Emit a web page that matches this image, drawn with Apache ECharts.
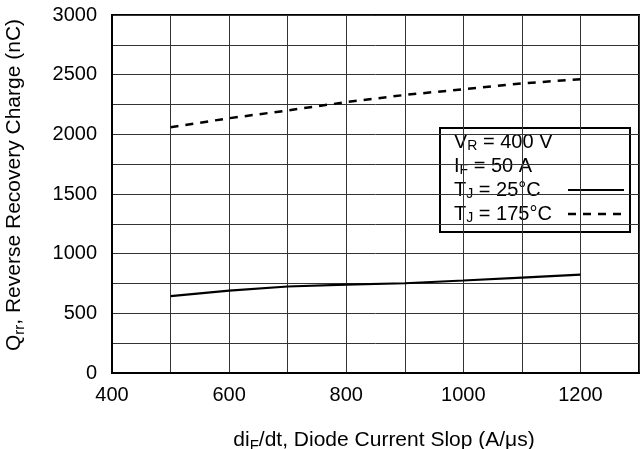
<!DOCTYPE html>
<html>
<head>
<meta charset="utf-8">
<script src="https://cdn.jsdelivr.net/npm/echarts@6/dist/echarts.min.js"></script>
<style>
  html, body { margin: 0; padding: 0; background: #fff; }
  #chart { width: 643px; height: 449px; }
</style>
</head>
<body>
<div id="chart"></div>
<script>
// di/dt values (A/us)
const slopes = [500, 600, 700, 800, 900, 1000, 1100, 1200];
// Qrr (nC)
const qrr25 = [645, 690, 725, 740, 752, 775, 800, 825];
const qrr175 = [2060, 2135, 2200, 2270, 2330, 2378, 2427, 2462];
const xTickLabels = [400, 600, 800, 1000, 1200];
const yTickLabels = [0, 500, 1000, 1500, 2000, 2500, 3000];

const font = "'Liberation Sans', Arial, sans-serif";
let myChart = echarts.init(document.getElementById("chart"));

function pairs(xs, ys) {
    return xs.map((x, i) => [x, ys[i]]);
}

const titleRich = {
    a: { fontSize: 21, fontFamily: font, color: "#000" },
    sub: { fontSize: 15, fontFamily: font, color: "#000", padding: [10, 0, 0, 0] }
};
const boxRich = {
    a: { fontSize: 20, fontFamily: font, color: "#000" },
    sub: { fontSize: 14, fontFamily: font, color: "#000", padding: [9, 0, 0, 0] }
};

myChart.setOption({
    animation: false,
    backgroundColor: "#fff",
    grid: {
        left: 112, top: 15, right: 4, bottom: 76,
        containLabel: false, outerBoundsMode: "none",
        show: true, borderColor: "#000", borderWidth: 2
    },
    xAxis: {
        type: "value",
        min: 400, max: 1300, interval: 100,
        axisLine: { show: true, lineStyle: { color: "#000", width: 2 } },
        axisTick: { show: false },
        splitLine: { show: true, lineStyle: { color: "#333", width: 1 } },
        axisLabel: {
            fontFamily: font, fontSize: 20, color: "#000", margin: 12,
            formatter: v => xTickLabels.includes(v) ? String(v) : ""
        },
        name: "{a|di}{sub|F}{a|/dt, Diode Current Slop (A/μs)}",
        nameLocation: "middle", nameGap: 55,
        nameTextStyle: { rich: titleRich, padding: [0, 0, 0, 17] }
    },
    yAxis: {
        type: "value",
        min: 0, max: 3000, interval: 250,
        axisLine: { show: true, lineStyle: { color: "#000", width: 2 } },
        axisTick: { show: false },
        splitLine: { show: true, lineStyle: { color: "#333", width: 1 } },
        axisLabel: {
            fontFamily: font, fontSize: 20, color: "#000", margin: 15,
            formatter: v => yTickLabels.includes(v) ? String(v) : ""
        },
        name: "{a|Q}{sub|rr}{a|, Reverse Recovery Charge (nC)}",
        nameLocation: "middle", nameGap: 85, nameRotate: 90,
        nameTextStyle: { rich: titleRich, padding: [0, 0, 0, 18] }
    },
    series: [
        {
            name: "TJ = 25°C",
            type: "line",
            data: pairs(slopes, qrr25),
            symbol: "none",
            lineStyle: { color: "#000", width: 2.2 }
        },
        {
            name: "TJ = 175°C",
            type: "line",
            data: pairs(slopes, qrr175),
            symbol: "none",
            lineStyle: { color: "#000", width: 2.5, type: [8, 7] }
        }
    ],
    // 图例框(手动绘制)
    graphic: [
        {
            type: "group", left: 439, top: 127,
            children: [
                { type: "rect", shape: { x: 0, y: 0, width: 190, height: 104 },
                  style: { fill: "#fff", stroke: "#000", lineWidth: 2 } },
                { type: "text", left: 14, top: 4,
                  style: { text: "{a|V}{sub|R}{a| = 400 V}", rich: boxRich } },
                { type: "text", left: 14, top: 28,
                  style: { text: "{a|I}{sub|F}{a| = 50 A}", rich: boxRich } },
                { type: "text", left: 14, top: 52,
                  style: { text: "{a|T}{sub|J}{a| = 25°C}", rich: boxRich } },
                { type: "text", left: 14, top: 76,
                  style: { text: "{a|T}{sub|J}{a| = 175°C}", rich: boxRich } },
                { type: "line", shape: { x1: 128, y1: 62, x2: 184, y2: 62 },
                  style: { stroke: "#000", lineWidth: 2.2 } },
                { type: "line", shape: { x1: 128, y1: 86, x2: 184, y2: 86 },
                  style: { stroke: "#000", lineWidth: 2.5, lineDash: [8, 7] } }
            ]
        }
    ]
});
</script>
</body>
</html>
